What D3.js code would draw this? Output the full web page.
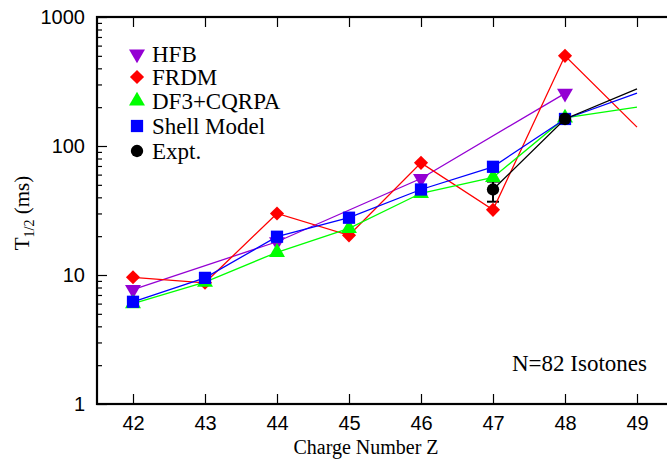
<!DOCTYPE html>
<html>
<head>
<meta charset="utf-8">
<style>
    body { margin: 0; background: white; }
    svg { display: block; }
    .tick text { font-family: 'Liberation Sans', Arial, sans-serif; font-size: 20px; fill: black; }
    .serif { font-family: 'Liberation Serif', 'Times New Roman', serif; fill: black; }
</style>
</head>
<body>
<svg width="667" height="461"></svg>

<script src="https://d3js.org/d3.v7.min.js"></script>
<script>
    // charge number Z along the x axis
    const zValues = [42, 43, 44, 45, 46, 47, 48, 49];
    // half-lives in ms, null where a model gives no value
    const hfb = [7.7, null, 18.1, null, 56, null, 256, null];
    const frdm = [9.6, 8.7, 30, 20.3, 74, 32, 500, 140];
    const df3 = [6.0, 8.8, 15, 23, 43, 57, 165, 200];
    const shellModel = [6.2, 9.5, 19.8, 27.8, 46, 69, 162, 257];
    const expt = [null, null, null, null, null, 46, 162, 277];
    const exptLow = [null, null, null, null, null, 37, null, null];
    const exptHigh = [null, null, null, null, null, 53, null, null];
    const yTickLabels = [1, 10, 100, 1000];

    let width = 667;
    let height = 461;
    let svg = d3.select("svg");

    let x = d3.scaleLinear().domain([41.5, 49.5]).range([97, 673]);
    let y = d3.scaleLog().domain([1, 1000]).range([404, 17]);

    // axes, ticks pointing inwards
    svg.append("g")
        .attr("transform", "translate(0,404)")
        .call(d3.axisBottom(x).tickValues(zValues).tickSize(-10).tickPadding(12).tickFormat(d3.format("d")))
        .call(g => g.select(".domain").remove());

    svg.append("g")
        .attr("transform", "translate(0,17)")
        .call(d3.axisTop(x).tickValues(zValues).tickSize(-10).tickFormat(""))
        .call(g => g.select(".domain").remove());

    svg.append("g")
        .attr("transform", "translate(97,0)")
        .call(d3.axisLeft(y).tickValues(yTickLabels).tickSize(-10).tickPadding(12).tickFormat(d3.format("d")))
        .call(g => g.select(".domain").remove());

    let minor = y.ticks().filter(d => !yTickLabels.includes(d));
    svg.append("g")
        .attr("transform", "translate(97,0)")
        .call(d3.axisLeft(y).tickValues(minor).tickSize(-5).tickFormat(""))
        .call(g => g.select(".domain").remove());

    svg.selectAll(".tick line").attr("stroke", "black").attr("stroke-width", 1.2);

    // frame
    svg.append("rect")
        .attr("x", x(41.5))
        .attr("y", y(1000))
        .attr("width", x(49.5) - x(41.5))
        .attr("height", y(1) - y(1000))
        .attr("fill", "none")
        .attr("stroke", "black")
        .attr("stroke-width", 2.2);

    let symbolPath = (type, size) => d3.symbol().type(type).size(size)();

    let series = [
        { name: "HFB", values: hfb, color: "#9400d3", type: d3.symbolTriangle, size: 110, rotate: 180 },
        { name: "FRDM", values: frdm, color: "#ff0000", type: d3.symbolSquare, size: 100, rotate: 45 },
        { name: "DF3+CQRPA", values: df3, color: "#00ff00", type: d3.symbolTriangle, size: 110, rotate: 0 },
        { name: "Shell Model", values: shellModel, color: "#0000ff", type: d3.symbolSquare, size: 150, rotate: 0 },
        { name: "Expt.", values: expt, color: "black", type: d3.symbolCircle, size: 120, rotate: 0 }
    ];

    let line = d3.line()
        .x(d => x(d.z))
        .y(d => y(d.v));

    // error bar on the measured value
    let errs = zValues.map((z, i) => ({ z: z, lo: exptLow[i], hi: exptHigh[i] })).filter(d => d.lo != null);
    let eb = svg.append("g").attr("stroke", "black").attr("stroke-width", 2);
    errs.forEach(d => {
        eb.append("line").attr("x1", x(d.z)).attr("x2", x(d.z)).attr("y1", y(d.lo)).attr("y2", y(d.hi));
        eb.append("line").attr("x1", x(d.z) - 6).attr("x2", x(d.z) + 6).attr("y1", y(d.lo)).attr("y2", y(d.lo));
        eb.append("line").attr("x1", x(d.z) - 6).attr("x2", x(d.z) + 6).attr("y1", y(d.hi)).attr("y2", y(d.hi));
    });

    series.forEach(s => {
        let pts = zValues.map((z, i) => ({ z: z, v: s.values[i] })).filter(d => d.v != null);
        svg.append("path")
            .datum(pts)
            .attr("d", line)
            .attr("fill", "none")
            .attr("stroke", s.color)
            .attr("stroke-width", 1.3);

        // the calculations run on to Z=49 but are only marked up to 48
        svg.append("g")
            .selectAll("path")
            .data(pts.filter(d => d.z <= 48))
            .join("path")
            .attr("d", symbolPath(s.type, s.size))
            .attr("transform", d => `translate(${x(d.z)},${y(d.v)}) rotate(${s.rotate})`)
            .attr("fill", s.color);
    });

    // legend
    let legend = svg.append("g").attr("class", "legend");
    let rowY = [54, 77, 101, 126, 151];
    series.forEach((s, i) => {
        legend.append("path")
            .attr("d", symbolPath(s.type, s.size))
            .attr("transform", `translate(137,${rowY[i]}) rotate(${s.rotate})`)
            .attr("fill", s.color);
        legend.append("text")
            .attr("class", "serif")
            .attr("x", 152)
            .attr("y", rowY[i] + 8)
            .style("font-size", "23px")
            .text(s.name);
    });

    svg.append("text")
        .attr("class", "serif")
        .attr("x", 647)
        .attr("y", 371)
        .attr("text-anchor", "end")
        .style("font-size", "23px")
        .text("N=82 Isotones");

    svg.append("text")
        .attr("class", "serif")
        .attr("x", 366)
        .attr("y", 454)
        .attr("text-anchor", "middle")
        .style("font-size", "20px")
        .text("Charge Number Z");

    let yTitle = svg.append("text")
        .attr("class", "serif")
        .attr("transform", "translate(29,213) rotate(-90)")
        .attr("text-anchor", "middle")
        .style("font-size", "21px");
    yTitle.append("tspan").text("T");
    yTitle.append("tspan").attr("dy", 5).style("font-size", "14px").text("1/2");
    yTitle.append("tspan").attr("dy", -5).text(" (ms)");
</script>
</body>
</html>
